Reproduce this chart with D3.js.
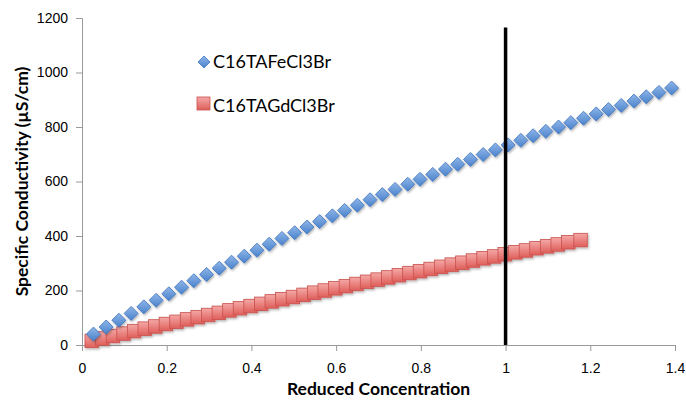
<!DOCTYPE html>
<html>
<head>
<meta charset="utf-8">
<script src="https://cdn.jsdelivr.net/npm/d3@7"></script>
<style>
  body { margin: 0; background: #fff; }
  svg { display: block; font-family: Lato, "Open Sans", sans-serif; }
  .axis-title { font-size: 17.5px; font-weight: bold; }
</style>
</head>
<body>
<div id="content"></div>
<script>
// reduced concentration (x) and conductivity (y)
let feX = [0.027, 0.057, 0.087, 0.116, 0.146, 0.175, 0.205, 0.235, 0.264, 0.294,
    0.324, 0.353, 0.383, 0.413, 0.442, 0.472, 0.502, 0.531, 0.561, 0.591,
    0.620, 0.650, 0.680, 0.709, 0.739, 0.769, 0.798, 0.828, 0.858, 0.887,
    0.917, 0.947, 0.976, 1.006, 1.036, 1.065, 1.095, 1.125, 1.154, 1.184,
    1.214, 1.243, 1.273, 1.303, 1.332, 1.362, 1.392];
let feY = [40, 66, 91, 116, 140, 164, 188, 212, 236, 259,
    282, 304, 326, 348, 370, 391, 412, 433, 453, 474,
    494, 513, 533, 552, 571, 590, 608, 626, 645, 663,
    681, 699, 716, 734, 751, 768, 784, 800, 816, 832,
    848, 864, 879, 895, 911, 927, 943];

let gdX = [0.023, 0.048, 0.073, 0.098, 0.123, 0.148, 0.173, 0.198, 0.223, 0.248,
    0.273, 0.298, 0.323, 0.348, 0.373, 0.398, 0.423, 0.448, 0.473, 0.498,
    0.523, 0.548, 0.573, 0.598, 0.623, 0.648, 0.673, 0.698, 0.723, 0.748,
    0.773, 0.798, 0.823, 0.848, 0.873, 0.898, 0.923, 0.948, 0.973, 0.998,
    1.023, 1.048, 1.073, 1.098, 1.123, 1.148, 1.177];
let gdY = [15, 24, 33, 42, 51, 60, 68, 77, 85, 94,
    102, 110, 118, 127, 135, 143, 151, 160, 168, 176,
    184, 192, 200, 208, 216, 224, 232, 240, 248, 256,
    264, 271, 279, 287, 295, 302, 310, 318, 325, 333,
    340, 347, 355, 362, 369, 377, 385];

let seriesNames = ["C16TAFeCl3Br", "C16TAGdCl3Br"];
let xTicks = [0, 0.2, 0.4, 0.6, 0.8, 1, 1.2, 1.4];
let yTicks = [0, 200, 400, 600, 800, 1000, 1200];
let markerLine = [1, 0, 1165]; // x, y from, y to

let width = 686;
let height = 400;
let margin = {left: 82, right: 11, top: 18, bottom: 55};

let svg = d3.select("#content").append("svg")
    .attr("width", width)
    .attr("height", height);

let x = d3.scaleLinear().domain([0, 1.4]).range([margin.left, width - margin.right]);
let y = d3.scaleLinear().domain([0, 1200]).range([height - margin.bottom, margin.top]);

let defs = svg.append("defs");
let blueGrad = defs.append("linearGradient").attr("id", "blueGrad")
    .attr("x1", 0).attr("y1", 0).attr("x2", 0).attr("y2", 1);
blueGrad.append("stop").attr("offset", "0%").attr("stop-color", "#8fb6e8");
blueGrad.append("stop").attr("offset", "100%").attr("stop-color", "#4a82cc");
let redGrad = defs.append("linearGradient").attr("id", "redGrad")
    .attr("x1", 0).attr("y1", 0).attr("x2", 0).attr("y2", 1);
redGrad.append("stop").attr("offset", "0%").attr("stop-color", "#f4a9a7");
redGrad.append("stop").attr("offset", "100%").attr("stop-color", "#df5e5a");
let shadow = defs.append("filter").attr("id", "shadow")
    .attr("x", "-30%").attr("y", "-30%").attr("width", "170%").attr("height", "170%");
shadow.append("feDropShadow").attr("dx", 1).attr("dy", 1.5)
    .attr("stdDeviation", 1).attr("flood-color", "#000").attr("flood-opacity", 0.3);

// axes
let xAxis = svg.append("g")
    .attr("transform", "translate(0," + y(0) + ")")
    .call(d3.axisBottom(x).tickValues(xTicks).tickSize(6).tickPadding(10)
        .tickFormat(d3.format("")));
let yAxis = svg.append("g")
    .attr("transform", "translate(" + x(0) + ",0)")
    .call(d3.axisLeft(y).tickValues(yTicks).tickSize(6).tickPadding(6)
        .tickFormat(d3.format("d")));
[xAxis, yAxis].forEach((g) => {
    g.select(".domain").attr("stroke", "#999");
    g.selectAll(".tick line").attr("stroke", "#999");
    g.selectAll(".tick text").style("font-size", "14px").attr("fill", "#000");
});
xAxis.selectAll(".tick text").attr("dy", "0.85em");
yAxis.selectAll(".tick text").attr("dx", "-2");

// red squares
let sq = 13.5;
svg.append("g").attr("filter", "url(#shadow)")
    .selectAll("rect")
    .data(gdX.map((v, i) => ({x: v, y: gdY[i]})))
    .enter().append("rect")
    .attr("x", (d) => x(d.x) - sq / 2)
    .attr("y", (d) => y(d.y) - sq / 2)
    .attr("width", sq)
    .attr("height", sq)
    .attr("fill", "url(#redGrad)")
    .attr("stroke", "#c9504c")
    .attr("stroke-width", 0.8);

// blue diamonds
let dm = 7;
let diamond = (cx, cy, r) => "M" + cx + "," + (cy - r) + "L" + (cx + r) + "," + cy +
    "L" + cx + "," + (cy + r) + "L" + (cx - r) + "," + cy + "Z";
svg.append("g").attr("filter", "url(#shadow)")
    .selectAll("path")
    .data(feX.map((v, i) => ({x: v, y: feY[i]})))
    .enter().append("path")
    .attr("d", (d) => diamond(x(d.x), y(d.y), dm))
    .attr("fill", "url(#blueGrad)")
    .attr("stroke", "#3f74bd")
    .attr("stroke-width", 0.8);

// vertical reference line at reduced concentration 1
svg.append("line")
    .attr("x1", x(markerLine[0])).attr("x2", x(markerLine[0]))
    .attr("y1", y(markerLine[1])).attr("y2", y(markerLine[2]))
    .attr("stroke", "#000")
    .attr("stroke-width", 3.5);

// legend
let legend = svg.append("g");
legend.append("path")
    .attr("d", diamond(204, 62, 6))
    .attr("fill", "url(#blueGrad)").attr("stroke", "#3f74bd").attr("stroke-width", 0.8);
legend.append("rect")
    .attr("x", 197).attr("y", 97).attr("width", 13).attr("height", 13)
    .attr("fill", "url(#redGrad)").attr("stroke", "#c9504c").attr("stroke-width", 0.8);
legend.selectAll("text")
    .data(seriesNames)
    .enter().append("text")
    .attr("x", 213)
    .attr("y", (d, i) => 68 + i * 44)
    .style("font-size", "18px")
    .text((d) => d);

// axis titles
svg.append("text")
    .attr("class", "axis-title")
    .attr("x", (x(0) + x(1.4)) / 2)
    .attr("y", 395)
    .attr("text-anchor", "middle")
    .text("Reduced Concentration");
svg.append("text")
    .attr("class", "axis-title")
    .attr("transform", "translate(28," + ((y(0) + y(1200)) / 2) + ") rotate(-90)")
    .attr("text-anchor", "middle")
    .text("Specific Conductivity (µS/cm)");
</script>
</body>
</html>
